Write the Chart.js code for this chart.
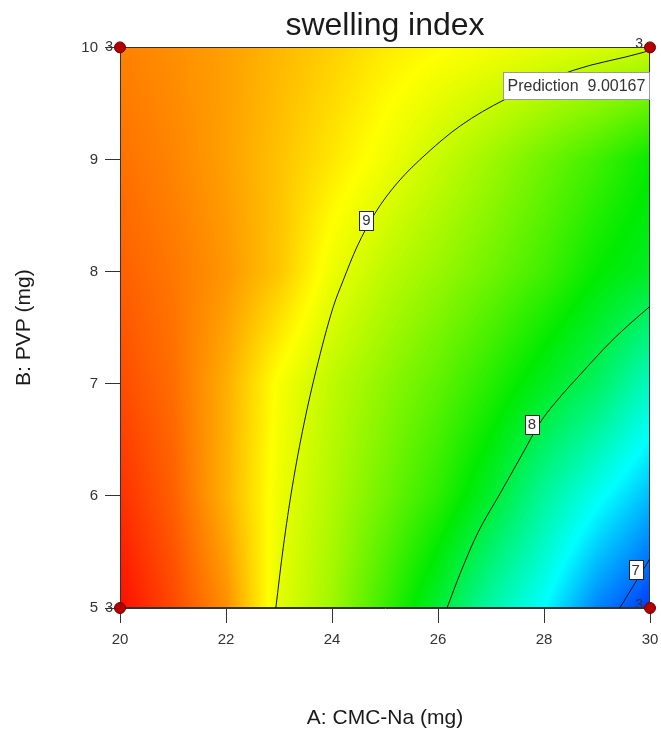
<!DOCTYPE html>
<html>
<head>
<meta charset="utf-8">
<title>swelling index</title>
<script src="https://cdn.jsdelivr.net/npm/chart.js@4.4.1/dist/chart.umd.min.js"></script>
<style>
  html, body { margin: 0; padding: 0; background: #fff; }
  #chart { display: block; }
</style>
</head>
<body>
<canvas id="chart" width="661" height="731"></canvas>
<script>
/************************ data ***************************************************/

const axisA = [20, 21, 22, 23, 24, 25, 26, 27, 28, 29, 30]; // A: CMC-Na (mg)
const axisB = [5, 6, 7, 8, 9, 10]; // B: PVP (mg)

// swelling index estimated from the colour map, one row per B level
const swellB5 = [9.71, 9.54, 9.33, 8.92, 8.72, 8.42, 8.10, 7.76, 7.50, 7.14, 6.92];
const swellB6 = [9.61, 9.47, 9.23, 8.95, 8.77, 8.58, 8.38, 8.12, 7.80, 7.54, 7.30];
const swellB7 = [9.53, 9.43, 9.24, 8.98, 8.81, 8.67, 8.53, 8.36, 8.16, 7.97, 7.68];
const swellB8 = [9.47, 9.40, 9.31, 9.17, 8.95, 8.81, 8.70, 8.58, 8.44, 8.26, 8.14];
const swellB9 = [9.42, 9.36, 9.28, 9.18, 9.07, 8.96, 8.84, 8.72, 8.58, 8.44, 8.27];
const swellB10 = [9.37, 9.33, 9.28, 9.21, 9.14, 9.06, 9.01, 8.97, 8.93, 8.89, 8.85];

// contour lines (A, B pairs)
const contour9A = [22.94, 23.08, 23.25, 23.47, 23.70, 24.02, 24.21, 24.47, 24.81, 25.23, 25.79, 26.42, 27.26, 28.55, 29.87, 30];
const contour9B = [5.0, 5.54, 6.08, 6.64, 7.12, 7.68, 7.92, 8.22, 8.52, 8.79, 9.055, 9.3, 9.535, 9.795, 9.955, 9.975];
const contour8A = [26.17, 26.42, 26.74, 27.17, 27.6, 27.92, 28.3, 28.68, 29.25, 29.68, 30];
const contour8B = [5.0, 5.31, 5.66, 6.02, 6.38, 6.65, 6.88, 7.08, 7.37, 7.56, 7.69];
const contour7A = [29.43, 30];
const contour7B = [5.0, 5.44];

// contour labels
const labelText = ["9", "8", "7"];
const labelA = [24.65, 27.77, 29.73];
const labelB = [8.46, 6.64, 5.34];

// design points and their replicate counts
const designA = [20, 30, 20, 30];
const designB = [10, 10, 5, 5];
const designReps = ["3", "3", "3", "3"];

// prediction flag
const predictionA = 30;
const predictionB = 10;
const predictionValue = "9.00167";

/************************ helpers *********************************/

const swellRows = [swellB5, swellB6, swellB7, swellB8, swellB9, swellB10];

// colour map: blue (low) -> cyan -> green -> yellow -> red (high)
const ramp = [
  [6.75, [0, 0, 255]],
  [7.5, [0, 255, 255]],
  [8.25, [0, 235, 0]],
  [9.0, [255, 255, 0]],
  [9.75, [255, 0, 0]],
];

function rampColor(v) {
  if (v <= ramp[0][0]) return ramp[0][1];
  for (let k = 1; k < ramp.length; k++) {
    if (v <= ramp[k][0]) {
      const t = (v - ramp[k - 1][0]) / (ramp[k][0] - ramp[k - 1][0]);
      const c0 = ramp[k - 1][1], c1 = ramp[k][1];
      return [c0[0] + (c1[0] - c0[0]) * t, c0[1] + (c1[1] - c0[1]) * t, c0[2] + (c1[2] - c0[2]) * t];
    }
  }
  return ramp[ramp.length - 1][1];
}

function gridPos(v, axis) {
  const f = (v - axis[0]) / (axis[1] - axis[0]);
  const i = Math.max(0, Math.min(axis.length - 2, Math.floor(f)));
  return [i, Math.max(0, Math.min(1, f - i))];
}

function swellAt(a, b) {
  const [i, tx] = gridPos(a, axisA);
  const [j, ty] = gridPos(b, axisB);
  const r0 = swellRows[j], r1 = swellRows[j + 1];
  const v0 = r0[i] + (r0[i + 1] - r0[i]) * tx;
  const v1 = r1[i] + (r1[i + 1] - r1[i]) * tx;
  return v0 + (v1 - v0) * ty;
}

/************************ plugins *********************************/

const FONT = "'Liberation Sans', Arial, sans-serif";

// colour map filling the plot area, painted before the axes
const fieldPlugin = {
  id: "field",
  beforeDraw(chart) {
    const { ctx, chartArea: a, scales } = chart;
    const left = Math.round(a.left), top = Math.round(a.top);
    const w = Math.round(a.right) - left, h = Math.round(a.bottom) - top;
    const img = ctx.createImageData(w, h);
    for (let j = 0; j < h; j++) {
      const b = scales.y.getValueForPixel(top + j + 0.5);
      for (let i = 0; i < w; i++) {
        const av = scales.x.getValueForPixel(left + i + 0.5);
        const c = rampColor(swellAt(av, b));
        const p = (j * w + i) * 4;
        img.data[p] = c[0];
        img.data[p + 1] = c[1];
        img.data[p + 2] = c[2];
        img.data[p + 3] = 255;
      }
    }
    ctx.putImageData(img, left, top);
  },
  beforeDatasetsDraw(chart) {
    const { ctx, chartArea: a } = chart;
    ctx.save();
    ctx.strokeStyle = "#333";
    ctx.lineWidth = 1;
    ctx.strokeRect(Math.round(a.left) + 0.5, Math.round(a.top) + 0.5,
      Math.round(a.right - a.left) - 1, Math.round(a.bottom - a.top) - 1);
    ctx.restore();
  },
};

// contour labels, replicate counts and the prediction flag
const notesPlugin = {
  id: "notes",
  afterDatasetDraw(chart, args) {
    if (args.index !== 1) return;
    const { ctx, scales } = chart;
    ctx.save();
    ctx.font = "15px " + FONT;
    ctx.textBaseline = "middle";
    ctx.textAlign = "center";
    for (let i = 0; i < labelText.length; i++) {
      const px = scales.x.getPixelForValue(labelA[i]);
      const py = scales.y.getPixelForValue(labelB[i]);
      const tw = ctx.measureText(labelText[i]).width + 6;
      ctx.fillStyle = "#fff";
      ctx.fillRect(Math.round(px - tw / 2) + 0.5, Math.round(py - 9.5) + 0.5, Math.round(tw), 19);
      ctx.strokeStyle = "#222";
      ctx.strokeRect(Math.round(px - tw / 2) + 0.5, Math.round(py - 9.5) + 0.5, Math.round(tw), 19);
      ctx.fillStyle = "#333";
      ctx.fillText(labelText[i], px, py + 1);
    }

    // replicate counts to the left of each design point
    ctx.font = "14px " + FONT;
    ctx.textAlign = "right";
    ctx.fillStyle = "#333";
    for (let i = 0; i < designA.length; i++) {
      const px = scales.x.getPixelForValue(designA[i]);
      const py = scales.y.getPixelForValue(designB[i]);
      ctx.fillText(designReps[i], px - 7, py - (designA[i] === 30 ? 3 : 0));
    }

    // prediction flag
    const fx = scales.x.getPixelForValue(predictionA);
    const fy = scales.y.getPixelForValue(predictionB);
    const bx = Math.round(fx - 147) + 0.5, by = Math.round(fy + 25) + 0.5;
    ctx.fillStyle = "#fff";
    ctx.fillRect(bx, by, 146, 27);
    ctx.strokeStyle = "#999";
    ctx.strokeRect(bx, by, 146, 27);
    ctx.font = "16px " + FONT;
    ctx.textAlign = "left";
    ctx.fillStyle = "#333";
    ctx.fillText("Prediction  " + predictionValue, bx + 4, by + 14);
    ctx.restore();
  },
};

/************************ chart *********************************/

const toXY = (as, bs) => as.map((a, i) => ({ x: a, y: bs[i] }));

const contourStyle = {
  type: "line",
  borderColor: "#111",
  borderWidth: 1,
  pointRadius: 0,
  fill: false,
  cubicInterpolationMode: "monotone",
};

const ctx = document.getElementById("chart").getContext("2d");
const myChart = new Chart(ctx, {
  type: "scatter",
  data: {
    datasets: [
      {
        label: "design points",
        data: toXY(designA, designB),
        pointRadius: 5.5,
        pointHoverRadius: 5.5,
        backgroundColor: "#b30000",
        borderColor: "#6e0000",
        borderWidth: 1,
        clip: false,
      },
      { ...contourStyle, label: "9", data: toXY(contour9A, contour9B) },
      { ...contourStyle, label: "8", data: toXY(contour8A, contour8B) },
      { ...contourStyle, label: "7", data: toXY(contour7A, contour7B) },
    ],
  },
  options: {
    responsive: false,
    animation: false,
    events: [],
    layout: {
      padding: { top: 7, right: 0, left: 0, bottom: 0 },
    },
    plugins: {
      legend: { display: false },
      tooltip: { enabled: false },
      title: {
        display: true,
        text: "swelling index",
        fullSize: false,
        color: "#1a1a1a",
        font: { family: FONT, size: 32, weight: "normal" },
        padding: { top: 0, bottom: 2 },
      },
    },
    scales: {
      x: {
        type: "linear",
        min: 20,
        max: 30,
        // keep the plot frame at the same place as the original
        afterFit(scale) {
          scale.height = 123;
          scale.paddingRight = 11;
        },
        ticks: {
          stepSize: 2,
          padding: 8,
          color: "#333",
          font: { family: FONT, size: 15 },
        },
        grid: {
          drawOnChartArea: false,
          tickLength: 15,
          tickColor: "#333",
        },
        border: { color: "#333", width: 1 },
        title: {
          display: true,
          text: "A: CMC-Na (mg)",
          color: "#1a1a1a",
          font: { family: FONT, size: 21 },
          padding: { top: 0, bottom: 0 },
        },
      },
      y: {
        type: "linear",
        min: 5,
        max: 10,
        afterFit(scale) { scale.width = 120; },
        ticks: {
          stepSize: 1,
          padding: 7,
          color: "#333",
          font: { family: FONT, size: 15 },
        },
        grid: {
          drawOnChartArea: false,
          tickLength: 15,
          tickColor: "#333",
        },
        border: { color: "#333", width: 1 },
        title: {
          display: true,
          text: "B: PVP (mg)",
          color: "#1a1a1a",
          font: { family: FONT, size: 21 },
          padding: { top: 12, bottom: 0 },
        },
      },
    },
  },
  plugins: [fieldPlugin, notesPlugin],
});
</script>
</body>
</html>
